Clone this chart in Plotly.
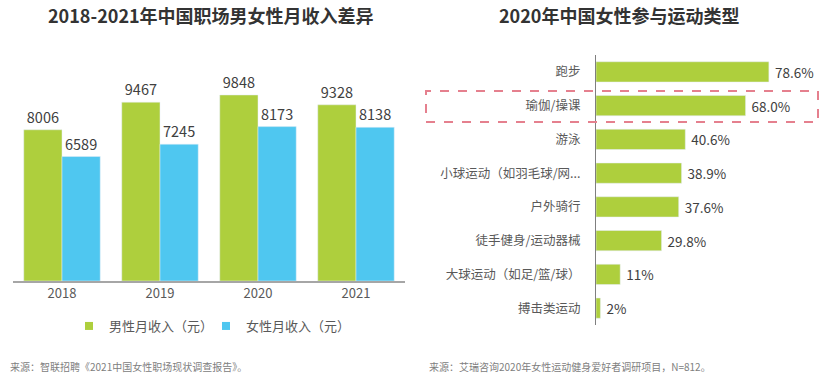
import plotly.graph_objects as go

years = ["2018", "2019", "2020", "2021"]
male_income = [8006, 9467, 9848, 9328]
female_income = [6589, 7245, 8173, 8138]
male_name = "男性月收入（元）"
female_name = "女性月收入（元）"

sports = ["跑步", "瑜伽/操课", "游泳", "小球运动（如羽毛球/网...", "户外骑行",
          "徒手健身/运动器械", "大球运动（如足/篮/球）", "搏击类运动"]
sport_pct = [78.6, 68.0, 40.6, 38.9, 37.6, 29.8, 11, 2]
sport_labels = ["78.6%", "68.0%", "40.6%", "38.9%", "37.6%", "29.8%", "11%", "2%"]

title_left = "2018-2021年中国职场男女性月收入差异"
title_right = "2020年中国女性参与运动类型"
source_left = "来源：智联招聘《2021中国女性职场现状调查报告》。"
source_right = "来源：艾瑞咨询2020年女性运动健身爱好者调研项目，N=812。"

GREEN = "#AECF3D"
BLUE = "#4FC7F0"
FONT = "Noto Sans CJK SC"
W, H = 832, 380

fig = go.Figure()
fig.add_trace(go.Bar(x=years, y=male_income, name=male_name, marker_color=GREEN,
                     text=[str(v) for v in male_income], textposition="outside",
                     textfont=dict(size=14.5, color="#404040"), cliponaxis=False,
                     showlegend=False, xaxis="x", yaxis="y"))
fig.add_trace(go.Bar(x=years, y=female_income, name=female_name, marker_color=BLUE,
                     text=[str(v) for v in female_income], textposition="outside",
                     textfont=dict(size=14.5, color="#404040"), cliponaxis=False,
                     showlegend=False, xaxis="x", yaxis="y"))
# legend entries (small square swatches)
for nm, col in [(male_name, GREEN), (female_name, BLUE)]:
    fig.add_trace(go.Scatter(x=[None], y=[None], mode="markers", name=nm,
                             marker=dict(symbol="square", size=8, color=col),
                             xaxis="x", yaxis="y"))
fig.add_trace(go.Bar(y=sports, x=sport_pct, orientation="h", marker_color=GREEN,
                     text=sport_labels, texttemplate="\u00a0%{text}", textposition="outside",
                     textfont=dict(size=13.5, color="#404040"), cliponaxis=False,
                     showlegend=False, xaxis="x2", yaxis="y2", width=0.6))

fig.update_layout(
    width=W, height=H,
    margin=dict(l=0, r=0, t=0, b=0),
    paper_bgcolor="white", plot_bgcolor="white",
    font=dict(family=FONT, color="#595959"),
    barmode="group", bargap=0.22, bargroupgap=0,
    xaxis=dict(domain=[13 / W, 405 / W], showline=True, linecolor="#A6A6A6", linewidth=1.5,
               showgrid=False, ticks="", tickfont=dict(size=13, color="#595959"),
               anchor="y"),
    yaxis=dict(domain=[1 - 281 / H, 1 - 60 / H], range=[0, 11700], visible=False,
               anchor="x"),
    xaxis2=dict(domain=[596 / W, 810 / W], range=[0, 97.3], visible=False, anchor="y2"),
    yaxis2=dict(domain=[1 - 325 / H, 1 - 55 / H], autorange="reversed", showline=True,
                linecolor="#7F7F7F", linewidth=1, showgrid=False, ticks="",
                ticklabelstandoff=12,
                tickfont=dict(size=12.5, color="#595959"), anchor="x2"),
    legend=dict(orientation="h", x=206 / W, xanchor="center", y=1 - 326 / H, yanchor="middle",
                font=dict(size=13, color="#595959"), itemwidth=30,
                entrywidth=92, entrywidthmode="pixels"),
    annotations=[
        dict(text="<b>" + title_left + "</b>", x=211 / W, y=1 - 15 / H, xref="paper", yref="paper",
             showarrow=False, font=dict(size=18, color="#333333", family=FONT),
             xanchor="center", yanchor="middle"),
        dict(text="<b>" + title_right + "</b>", x=619 / W, y=1 - 15 / H, xref="paper", yref="paper",
             showarrow=False, font=dict(size=18, color="#333333", family=FONT),
             xanchor="center", yanchor="middle"),
        dict(text=source_left, x=8 / W, y=1 - 366 / H, xref="paper", yref="paper",
             showarrow=False, font=dict(size=10, color="#808080", family=FONT),
             xanchor="left", yanchor="middle"),
        dict(text=source_right, x=427 / W, y=1 - 366 / H, xref="paper", yref="paper",
             showarrow=False, font=dict(size=10, color="#808080", family=FONT),
             xanchor="left", yanchor="middle"),
    ],
    shapes=[
        dict(type="rect", xref="paper", yref="paper",
             x0=426 / W, x1=818 / W, y0=1 - 122 / H, y1=1 - 91 / H,
             line=dict(color="#E5808E", width=2, dash="dash"), fillcolor="rgba(0,0,0,0)"),
    ],
)

fig.write_html("out.html", config={"displayModeBar": False},
               post_script="document.body.style.margin='0';document.body.style.overflow='hidden';")
